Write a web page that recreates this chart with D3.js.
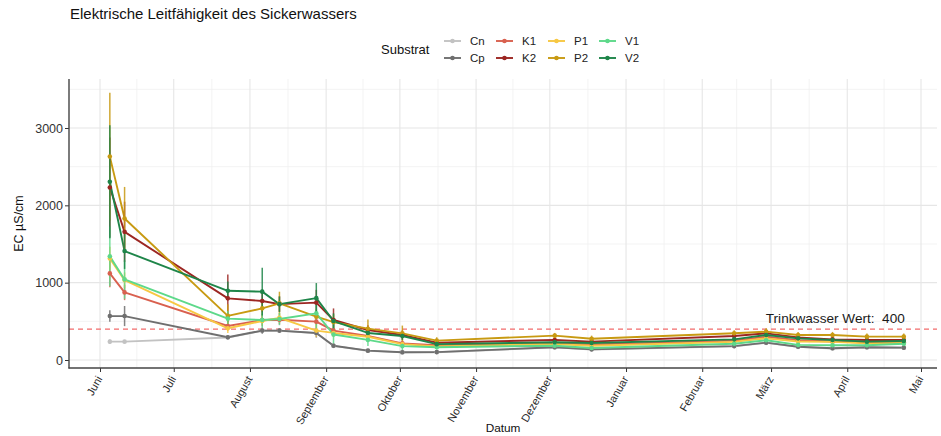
<!DOCTYPE html>
<html>
<head>
<meta charset="utf-8">
<script src="https://cdn.jsdelivr.net/npm/d3@7"></script>
<style>
  body { margin: 0; background: #fff; }
  svg { font-family: "Liberation Sans", Arial, sans-serif; }
</style>
</head>
<body>
<svg id="chart" width="941" height="436"></svg>
<script>
// Sampling dates (Probenahme)
const dates = ["2020-06-05","2020-06-11","2020-07-23","2020-08-06","2020-08-13","2020-08-28",
               "2020-09-04","2020-09-18","2020-10-02","2020-10-16","2020-12-03","2020-12-18",
               "2021-02-14","2021-02-27","2021-03-12","2021-03-26","2021-04-09","2021-04-24"];

// Mean EC (µS/cm) per substrate
const Cn = [237, 237, 290, 378, 378, 348, 183, 119, 98, 100, 163, 136, 178, 222, 170, 149, 162, 158];
const Cp = [568, 568, 294, 380, 380, 350, 185, 121, 100, 102, 165, 138, 180, 224, 172, 151, 164, 160];
const K1 = [1120, 874, 440, 517, 520, 496, 380, 310, 215, 190, 215, 200, 250, 300, 255, 240, 225, 230];
const K2 = [2230, 1657, 797, 763, 723, 742, 517, 388, 323, 224, 259, 237, 310, 345, 293, 267, 259, 259];
const P1 = [1313, 1033, 410, 504, 545, 380, 350, 300, 205, 175, 205, 185, 235, 280, 240, 235, 215, 220];
const P2 = [2630, 1830, 570, 668, 733, 560, 490, 405, 345, 250, 315, 275, 345, 367, 323, 323, 302, 302];
const V1 = [1340, 1042, 535, 517, 530, 603, 330, 260, 180, 165, 185, 155, 210, 255, 195, 190, 190, 210];
const V2 = [2305, 1408, 895, 884, 722, 800, 504, 350, 310, 205, 230, 220, 267, 323, 280, 259, 237, 245];

// Standard deviations
const CnSd = [30, 20, 20, 20, 20, 20, 15, 15, 15, 15, 15, 15, 15, 15, 15, 15, 15, 15];
const CpSd = [75, 130, 30, 40, 30, 60, 30, 20, 20, 20, 20, 20, 20, 20, 20, 20, 20, 20];
const K1Sd = [180, 100, 60, 80, 60, 100, 80, 50, 40, 30, 30, 30, 30, 30, 30, 30, 30, 30];
const K2Sd = [646, 390, 310, 150, 100, 165, 150, 60, 60, 30, 30, 30, 30, 30, 30, 30, 30, 30];
const P1Sd = [150, 100, 60, 50, 60, 80, 50, 40, 30, 30, 30, 30, 30, 30, 30, 30, 30, 30];
const P2Sd = [826, 408, 150, 120, 150, 100, 100, 120, 100, 45, 35, 40, 40, 45, 40, 40, 40, 40];
const V1Sd = [385, 250, 100, 100, 80, 200, 150, 80, 60, 30, 30, 30, 30, 30, 30, 30, 30, 30];
const V2Sd = [730, 230, 120, 310, 100, 195, 100, 60, 50, 30, 30, 30, 30, 30, 30, 30, 30, 30];

const substrates = ["Cn", "Cp", "K1", "K2", "P1", "P2", "V1", "V2"];
const colors = ["#c2c2c2", "#6f6f6f", "#d9604f", "#9c2622", "#f7c843", "#c89a12", "#5dd98a", "#1e8549"];
const means = [Cn, Cp, K1, K2, P1, P2, V1, V2];
const sds = [CnSd, CpSd, K1Sd, K2Sd, P1Sd, P2Sd, V1Sd, V2Sd];

const monthLabels = ["Juni","Juli","August","September","Oktober","November","Dezember",
                     "Januar","Februar","März","April","Mai"];
const yTicks = [0, 1000, 2000, 3000];
const yMinor = [500, 1500, 2500, 3500];
const limitValue = 400;

const parse = d3.utcParse("%Y-%m-%d");
const series = substrates.map((name, i) => ({
  name, color: colors[i],
  points: dates.map((d, j) => ({ date: parse(d), v: means[i][j], sd: sds[i][j] }))
}));

const svg = d3.select("#chart");
const panel = { left: 69, right: 937, top: 79, bottom: 368 };

const x = d3.scaleUtc()
  .domain([parse("2020-06-01"), parse("2021-05-01")])
  .range([100, 921]);
const y = d3.scaleLinear().domain([0, 3000]).range([360, 128]);

const monthTicks = d3.utcMonth.range(parse("2020-06-01"), parse("2021-05-02"));
const minorX = monthTicks.slice(0, -1).map((d, i) =>
  new Date((d.getTime() + monthTicks[i + 1].getTime()) / 2));

// Grid
const grid = svg.append("g");
grid.selectAll(".ymin").data(yMinor).join("line")
  .attr("x1", panel.left).attr("x2", panel.right)
  .attr("y1", d => y(d)).attr("y2", d => y(d))
  .attr("stroke", "#f0f0f0").attr("stroke-width", 0.8);
grid.selectAll(".xmin").data(minorX).join("line")
  .attr("x1", d => x(d)).attr("x2", d => x(d))
  .attr("y1", panel.top).attr("y2", panel.bottom)
  .attr("stroke", "#f0f0f0").attr("stroke-width", 0.8);
grid.selectAll(".ymaj").data(yTicks).join("line")
  .attr("x1", panel.left).attr("x2", panel.right)
  .attr("y1", d => y(d)).attr("y2", d => y(d))
  .attr("stroke", "#e6e6e6").attr("stroke-width", 1.1);
grid.selectAll(".xmaj").data(monthTicks).join("line")
  .attr("x1", d => x(d)).attr("x2", d => x(d))
  .attr("y1", panel.top).attr("y2", panel.bottom)
  .attr("stroke", "#e6e6e6").attr("stroke-width", 1.1);

// Drinking water reference line
svg.append("line")
  .attr("x1", panel.left).attr("x2", panel.right)
  .attr("y1", y(limitValue)).attr("y2", y(limitValue))
  .attr("stroke", "#f26b6b").attr("stroke-width", 1.2)
  .attr("stroke-dasharray", "5,4");
svg.append("text")
  .attr("x", x(parse("2021-04-24")) + 1).attr("y", y(limitValue) - 6)
  .attr("text-anchor", "end").attr("font-size", 13.6).attr("fill", "#1a1a1a")
  .style("white-space", "pre")
  .text("Trinkwasser Wert:  400");

// Lines
const line = d3.line().x(d => x(d.date)).y(d => y(d.v));
const marks = svg.append("g");
marks.selectAll("path.series").data(series).join("path")
  .attr("class", "series")
  .attr("d", s => line(s.points))
  .attr("fill", "none").attr("stroke", s => s.color)
  .attr("stroke-width", 1.9).attr("stroke-linejoin", "round");

// Error bars
series.forEach(s => {
  marks.append("g").selectAll("line").data(s.points).join("line")
    .attr("x1", d => x(d.date)).attr("x2", d => x(d.date))
    .attr("y1", d => y(d.v - d.sd)).attr("y2", d => y(d.v + d.sd))
    .attr("stroke", s.color).attr("stroke-width", 1.5).attr("opacity", 0.85);
});

// Points
series.forEach(s => {
  marks.append("g").selectAll("circle").data(s.points).join("circle")
    .attr("cx", d => x(d.date)).attr("cy", d => y(d.v)).attr("r", 2.3)
    .attr("fill", s.color);
});

// Axes
const xAxis = svg.append("g").attr("transform", `translate(0,${panel.bottom})`)
  .call(d3.axisBottom(x).tickValues(monthTicks).tickFormat((d, i) => monthLabels[i])
        .tickSize(4).tickSizeOuter(0));
xAxis.select(".domain").remove();
xAxis.selectAll(".tick line").attr("stroke", "#333").attr("stroke-width", 1);
xAxis.selectAll(".tick text")
  .attr("x", 0).attr("y", 0).attr("dy", "0.35em")
  .attr("transform", "translate(-1,9) rotate(-60)")
  .attr("text-anchor", "end").attr("font-size", 11).attr("fill", "#2b2b2b")
  .attr("font-family", "Liberation Sans, Arial, sans-serif");

const yAxis = svg.append("g").attr("transform", `translate(${panel.left},0)`)
  .call(d3.axisLeft(y).tickValues(yTicks).tickFormat(d3.format("d")).tickSize(4).tickSizeOuter(0));
yAxis.select(".domain").remove();
yAxis.selectAll(".tick line").attr("stroke", "#333").attr("stroke-width", 1);
yAxis.selectAll(".tick text").attr("font-size", 12.5).attr("fill", "#333")
  .attr("x", -6).attr("font-family", "Liberation Sans, Arial, sans-serif");

svg.append("line").attr("x1", panel.left).attr("x2", panel.left)
  .attr("y1", panel.top).attr("y2", panel.bottom + 0.5)
  .attr("stroke", "#444").attr("stroke-width", 1.4);
svg.append("line").attr("x1", panel.left - 0.5).attr("x2", panel.right)
  .attr("y1", panel.bottom).attr("y2", panel.bottom)
  .attr("stroke", "#444").attr("stroke-width", 1.4);

// Axis titles
svg.append("text").attr("x", (panel.left + panel.right) / 2).attr("y", 432)
  .attr("text-anchor", "middle").attr("font-size", 11.8).attr("fill", "#111").text("Datum");
svg.append("text").attr("transform", `translate(23,${(panel.top + panel.bottom) / 2}) rotate(-90)`)
  .attr("text-anchor", "middle").attr("font-size", 12.5).attr("fill", "#111").text("EC µS/cm");

// Title
svg.append("text").attr("x", 70).attr("y", 19).attr("font-size", 15).attr("fill", "#111")
  .text("Elektrische Leitfähigkeit des Sickerwassers");

// Legend
const legend = svg.append("g");
legend.append("text").attr("x", 381).attr("y", 54).attr("font-size", 13).attr("fill", "#111")
  .text("Substrat");
const colX = [444, 496, 548, 599];
const rowY = [41, 58];
series.forEach((s, i) => {
  const cx = colX[Math.floor(i / 2)], cy = rowY[i % 2];
  legend.append("line").attr("x1", cx).attr("x2", cx + 17).attr("y1", cy).attr("y2", cy)
    .attr("stroke", s.color).attr("stroke-width", 1.9);
  legend.append("circle").attr("cx", cx + 8.5).attr("cy", cy).attr("r", 2.3).attr("fill", s.color);
  legend.append("text").attr("x", cx + 26).attr("y", cy).attr("dy", "0.35em")
    .attr("font-size", 11.5).attr("fill", "#222").text(s.name);
});
</script>
</body>
</html>
